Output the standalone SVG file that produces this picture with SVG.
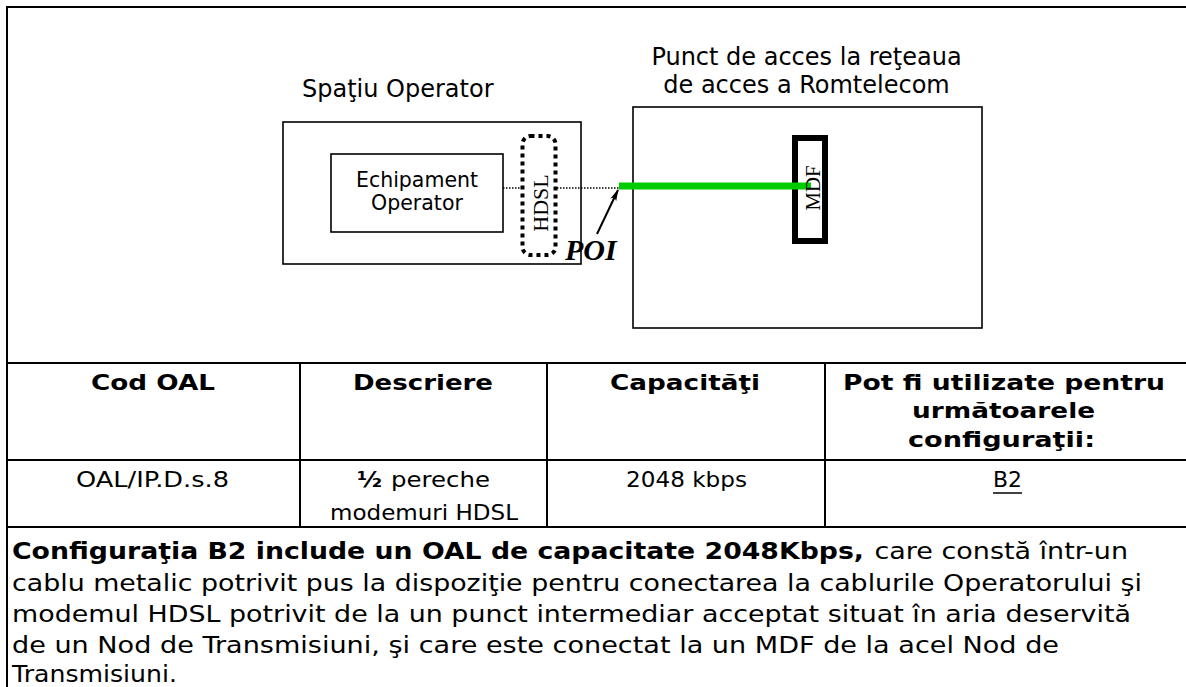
<svg xmlns="http://www.w3.org/2000/svg" width="1186" height="687" viewBox="0 0 1186 687">
<defs>
<style>
.sans{font-family:"DejaVu Sans","Verdana",sans-serif;fill:#000}
.serif{font-family:"Liberation Serif","Times New Roman",serif;fill:#000}
.frame{stroke:#000;stroke-width:2;fill:none}
.box{stroke:#000;stroke-width:1.6;fill:#fff}
.hdr{font-weight:bold;font-size:21.5px}
.cell{font-size:21.5px}
.para{font-size:22.5px}
</style>
<marker id="arr" markerWidth="12" markerHeight="8" refX="11" refY="4" orient="auto" markerUnits="userSpaceOnUse">
<path d="M0,0.8 L12,4 L0,7.2 L3,4 Z" fill="#000"/>
</marker>
</defs>
<rect width="1186" height="687" fill="#fff"/>
<g id="frame">
<path class="frame" d="M7,688 V7 H1187"/>
<path class="frame" d="M7,363 H1187 M7,460 H1187 M7,527 H1187 M300,363 V527 M547,363 V527 M825,363 V527"/>
</g>
<g id="spatiu-operator">
<text class="sans" x="302" y="97" font-size="24">Spaţiu Operator</text>
<rect class="box" x="283" y="122" width="298" height="142"/>
</g>
<g id="echipament">
<rect class="box" x="331" y="154" width="172" height="78"/>
<text class="sans" x="417" y="187" font-size="20.5" text-anchor="middle">Echipament</text>
<text class="sans" x="417" y="210" font-size="20.5" text-anchor="middle">Operator</text>
</g>
<g id="hdsl">
<rect x="522.5" y="136" width="33" height="119" rx="8" fill="none" stroke="#000" stroke-width="4" stroke-dasharray="4 4"/>
<text class="serif" transform="translate(548,203) rotate(-90)" font-size="22" text-anchor="middle">HDSL</text>
</g>
<g id="punct-acces">
<text class="sans" x="806.5" y="65" font-size="24" text-anchor="middle">Punct de acces la reţeaua</text>
<text class="sans" x="806.5" y="93" font-size="24" text-anchor="middle">de acces a Romtelecom</text>
<rect class="box" x="633" y="107" width="349" height="221"/>
</g>
<g id="mdf">
<rect x="795" y="138" width="30" height="103" fill="#fff" stroke="#000" stroke-width="6"/>
</g>
<g id="connectors">
<path d="M503,188 H521 M557,188 H619" stroke="#000" stroke-width="1.5" stroke-dasharray="1.5 1.5" fill="none"/>
<path d="M619,186 H811" stroke="#00CC00" stroke-width="7" fill="none"/>
<path d="M597,234 L618,190" stroke="#000" stroke-width="2" fill="none" marker-end="url(#arr)"/>
</g>
<g id="mdf-label">
<text class="serif" transform="translate(820,188) rotate(-90)" font-size="22" text-anchor="middle" textLength="45" lengthAdjust="spacingAndGlyphs">MDF</text>
</g>
<g id="poi">
<text class="serif" x="565" y="260" font-size="30" font-weight="bold" font-style="italic">POI</text>
</g>
<g id="table">
<text class="sans hdr" x="91" y="390" textLength="124" lengthAdjust="spacingAndGlyphs">Cod OAL</text>
<text class="sans hdr" x="353" y="390" textLength="140" lengthAdjust="spacingAndGlyphs">Descriere</text>
<text class="sans hdr" x="610" y="390" textLength="150" lengthAdjust="spacingAndGlyphs">Capacităţi</text>
<text class="sans hdr" x="843" y="390" textLength="322" lengthAdjust="spacingAndGlyphs">Pot fi utilizate pentru</text>
<text class="sans hdr" x="912" y="418" textLength="183" lengthAdjust="spacingAndGlyphs">următoarele</text>
<text class="sans hdr" x="908" y="447" textLength="187" lengthAdjust="spacingAndGlyphs">configuraţii:</text>
<text class="sans cell" x="76" y="487" textLength="153" lengthAdjust="spacingAndGlyphs">OAL/IP.D.s.8</text>
<text class="sans cell" x="357" y="487" font-weight="bold" textLength="25" lengthAdjust="spacingAndGlyphs">½</text>
<text class="sans cell" x="391" y="487" textLength="99" lengthAdjust="spacingAndGlyphs">pereche</text>
<text class="sans cell" x="330" y="520" textLength="188" lengthAdjust="spacingAndGlyphs">modemuri HDSL</text>
<text class="sans cell" x="626" y="487" textLength="121" lengthAdjust="spacingAndGlyphs">2048 kbps</text>
<text class="sans cell" x="993" y="487" textLength="29" lengthAdjust="spacingAndGlyphs">B2</text>
<path d="M993,493 H1022" stroke="#000" stroke-width="1.5"/>
</g>
<g id="paragraph">
<text class="sans para" x="12" y="559" font-weight="bold" textLength="852" lengthAdjust="spacingAndGlyphs">Configuraţia B2 include un OAL de capacitate 2048Kbps,</text>
<text class="sans para" x="874.5" y="559" textLength="253.5" lengthAdjust="spacingAndGlyphs">care constă într-un</text>
<text class="sans para" x="12" y="591" textLength="1130" lengthAdjust="spacingAndGlyphs">cablu metalic potrivit pus la dispoziţie pentru conectarea la cablurile Operatorului şi</text>
<text class="sans para" x="12" y="622" textLength="1119" lengthAdjust="spacingAndGlyphs">modemul HDSL potrivit de la un punct intermediar acceptat situat în aria deservită</text>
<text class="sans para" x="12" y="653" textLength="1047" lengthAdjust="spacingAndGlyphs">de un Nod de Transmisiuni, şi care este conectat la un MDF de la acel Nod de</text>
<text class="sans para" x="12" y="682" textLength="165" lengthAdjust="spacingAndGlyphs">Transmisiuni.</text>
</g>
</svg>
